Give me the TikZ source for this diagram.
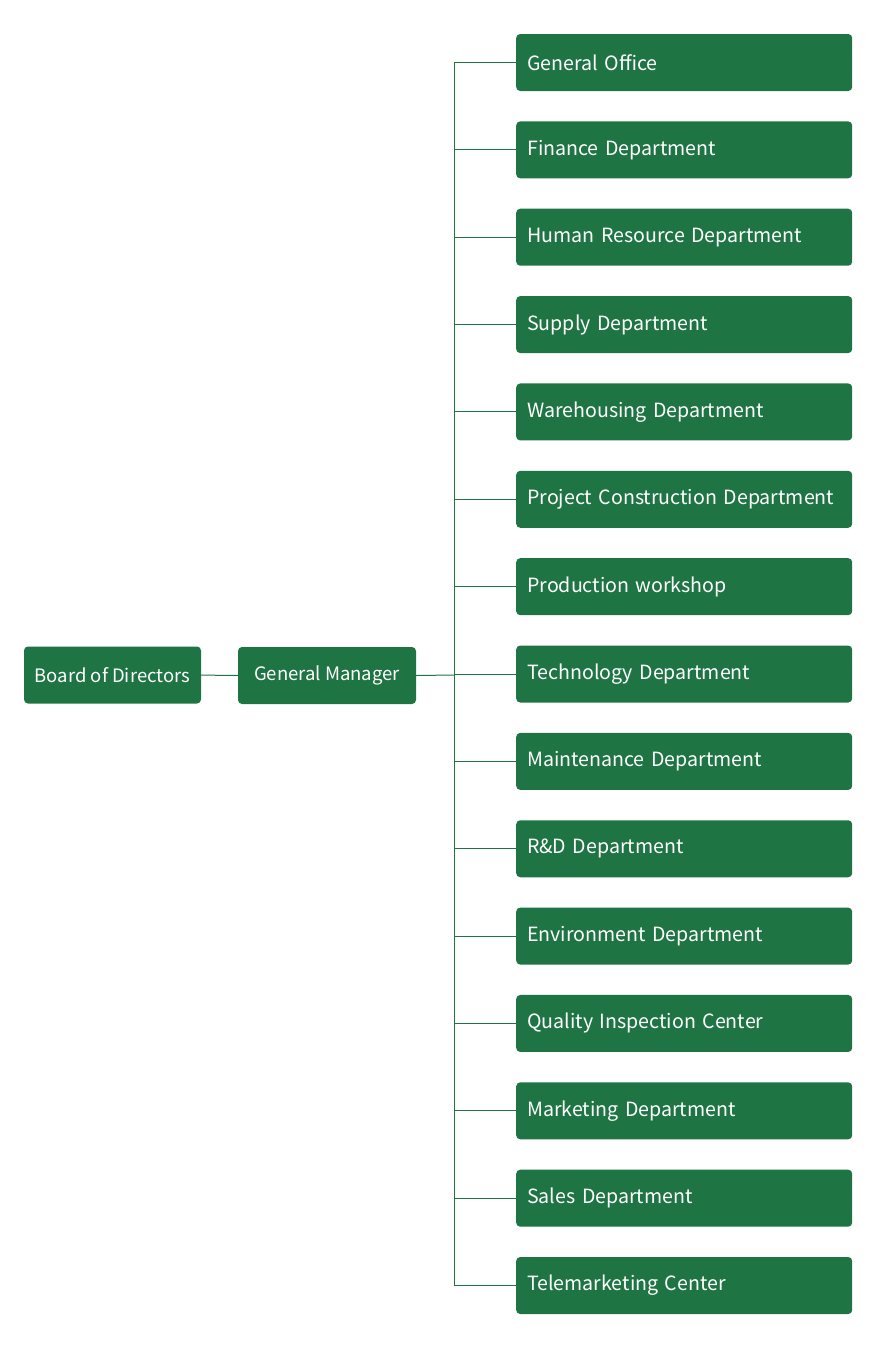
\documentclass[tikz,border=0pt]{standalone}
\usepackage{fontspec}
\setmainfont{Noto Sans CJK SC}
\usetikzlibrary{positioning}
\definecolor{orggreen}{RGB}{31,116,68}
\tikzset{unit/.style={fill=orggreen,text=white,rounded corners=4pt,minimum height=57pt,inner sep=0pt,font=\fontsize{18.5}{22}\selectfont},
dept/.style={unit,anchor=west,align=left,text width=336pt,font=\fontsize{19.6}{22}\selectfont},
link/.style={draw=orggreen,line width=1pt}}
\begin{document}
\begin{tikzpicture}[x=1pt,y=-1pt]
\useasboundingbox(0,0)rectangle(892,1358);
\node[unit,minimum width=177pt](bod)at(112.5,675){Board of Directors};
\node[unit,minimum width=178pt](gm)at(327,675.5){General Manager};
\coordinate(j)at(454,675);
\draw[link](bod)--(gm);\draw[link](gm.east)--(j);
\foreach \name[count=\i from 0] in {General Office,Finance Department,Human Resource Department,Supply Department,Warehousing Department,Project Construction Department,Production workshop,Technology Department,Maintenance Department,R\&D Department,Environment Department,Quality Inspection Center,Marketing Department,Sales Department,Telemarketing Center}{
\node[dept](d\i)at(516,62.5+87.36*\i){\hspace*{11pt}\name};
\draw[link](j)|-(d\i.west);}
\end{tikzpicture}
\end{document}
